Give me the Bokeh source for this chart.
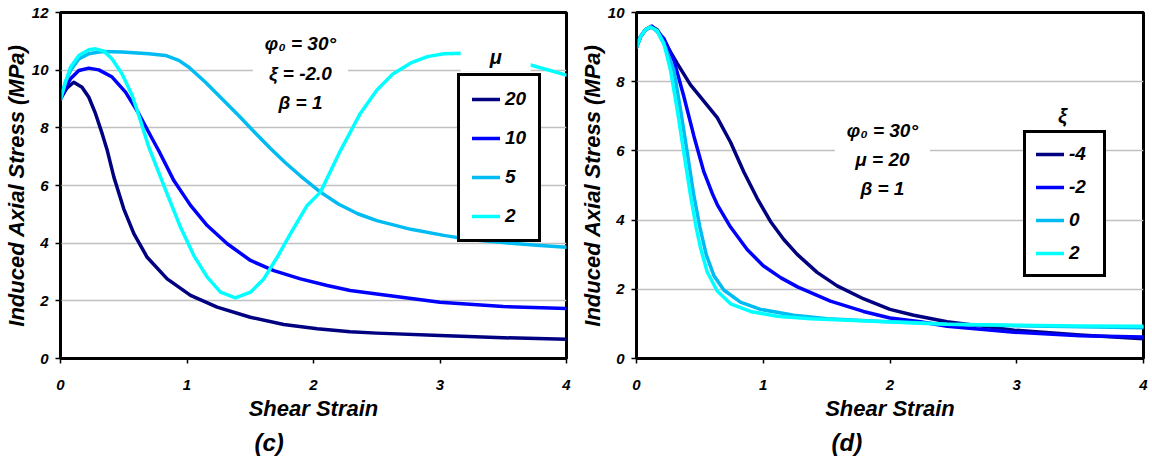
from bokeh.plotting import figure
from bokeh.models import Range1d, FixedTicker, Legend, LegendItem, Label, Title
from bokeh.layouts import row
from bokeh.embed import file_html
from bokeh.resources import INLINE

# ---------------- ticks ----------------
x_ticks = [0, 1, 2, 3, 4]
y_ticks_c = [0, 2, 4, 6, 8, 10, 12]
y_ticks_d = [0, 2, 4, 6, 8, 10]

# ---------------- data: panel (c), xi = -2.0, varying mu ----------------
mu_labels = ["20", "10", "5", "2"]

strain_mu20 = [0, 0.05, 0.105, 0.17, 0.224, 0.277, 0.33, 0.37, 0.422, 0.5, 0.58, 0.685, 0.843, 1.028, 1.238,
               1.5, 1.765, 2.03, 2.29, 2.5, 3.0, 3.5, 4.0]
stress_mu20 = [9.0, 9.38, 9.58, 9.41, 9.06, 8.49, 7.79, 7.21, 6.29, 5.19, 4.33, 3.51, 2.76, 2.19, 1.78,
               1.43, 1.18, 1.03, 0.93, 0.88, 0.80, 0.72, 0.67]

strain_mu10 = [0, 0.04, 0.079, 0.145, 0.224, 0.303, 0.408, 0.514, 0.619, 0.725, 0.78, 0.896, 1.028, 1.16,
               1.318, 1.502, 1.686, 1.897, 2.108, 2.29, 2.5, 3.0, 3.5, 4.0]
stress_mu10 = [9.0, 9.4, 9.70, 9.99, 10.07, 10.01, 9.76, 9.24, 8.49, 7.62, 7.18, 6.17, 5.31, 4.61,
               3.98, 3.40, 3.05, 2.76, 2.53, 2.36, 2.24, 1.95, 1.80, 1.73]

strain_mu5 = [0, 0.04, 0.079, 0.145, 0.224, 0.329, 0.487, 0.698, 0.83, 0.935, 1.015, 1.146, 1.278, 1.41,
              1.54, 1.66, 1.78, 1.9, 2.055, 2.2, 2.35, 2.5, 2.77, 3.03, 3.25, 3.5, 3.79, 4.0]
stress_mu5 = [9.0, 9.6, 9.99, 10.39, 10.57, 10.65, 10.63, 10.57, 10.51, 10.34, 10.1, 9.58, 9.0, 8.42,
              7.82, 7.28, 6.78, 6.32, 5.77, 5.35, 5.02, 4.78, 4.48, 4.27, 4.12, 4.02, 3.92, 3.86]

strain_mu2 = [0, 0.04, 0.079, 0.145, 0.224, 0.277, 0.343, 0.408, 0.487, 0.567, 0.632, 0.698, 0.843, 0.949,
              1.054, 1.16, 1.265, 1.383, 1.502, 1.607, 1.713, 1.818, 1.95, 2.055, 2.213, 2.37, 2.5, 2.63,
              2.77, 2.9, 3.03, 3.18, 3.35, 3.5, 3.73, 4.0]
stress_mu2 = [9.0, 9.6, 10.1, 10.51, 10.71, 10.74, 10.66, 10.39, 9.87, 9.12, 8.26, 7.33, 5.71, 4.55,
              3.57, 2.82, 2.30, 2.10, 2.30, 2.76, 3.51, 4.33, 5.31, 5.77, 7.21, 8.5, 9.3, 9.88,
              10.25, 10.47, 10.57, 10.59, 10.52, 10.42, 10.16, 9.83]

# ---------------- data: panel (d), mu = 20, varying xi ----------------
xi_labels = ["-4", "-2", "0", "2"]

strain_xim4 = [0, 0.032, 0.071, 0.116, 0.163, 0.216, 0.27, 0.321, 0.426, 0.531, 0.637, 0.742, 0.847, 0.952,
               1.057, 1.162, 1.268, 1.425, 1.583, 1.794, 2.0, 2.188, 2.45, 2.98, 3.5, 4.0]
stress_xim4 = [9.0, 9.3, 9.5, 9.6, 9.5, 9.2, 8.85, 8.53, 7.91, 7.44, 6.96, 6.25, 5.39, 4.63,
               3.96, 3.44, 3.01, 2.49, 2.10, 1.72, 1.42, 1.25, 1.06, 0.82, 0.68, 0.57]

strain_xim2 = [0, 0.032, 0.071, 0.124, 0.216, 0.294, 0.373, 0.452, 0.531, 0.6, 0.637, 0.742, 0.873, 1.0,
               1.14, 1.27, 1.53, 1.79, 2.0, 2.24, 2.45, 2.98, 3.5, 4.0]
stress_xim2 = [9.0, 9.3, 9.5, 9.6, 9.25, 8.63, 7.58, 6.44, 5.4, 4.75, 4.45, 3.8, 3.15, 2.68,
               2.33, 2.07, 1.66, 1.36, 1.17, 1.06, 0.93, 0.76, 0.66, 0.62]

strain_xi0 = [0, 0.032, 0.071, 0.11, 0.163, 0.216, 0.294, 0.347, 0.4, 0.452, 0.5, 0.55, 0.61, 0.689, 0.82,
              0.978, 1.241, 1.505, 1.9, 2.24, 2.45, 3.0, 3.5, 4.0]
stress_xi0 = [9.0, 9.3, 9.5, 9.58, 9.47, 9.1, 8.34, 7.2, 5.96, 4.72, 3.8, 3.0, 2.4, 1.98, 1.63,
              1.42, 1.25, 1.15, 1.08, 1.03, 0.99, 0.95, 0.92, 0.89]

strain_xi2 = [0, 0.032, 0.071, 0.11, 0.163, 0.216, 0.268, 0.321, 0.373, 0.426, 0.47, 0.505, 0.558, 0.637,
              0.742, 0.9, 1.11, 1.373, 1.767, 2.24, 2.45, 3.0, 3.5, 4.0]
stress_xi2 = [9.0, 9.3, 9.5, 9.58, 9.47, 9.1, 8.34, 7.2, 5.96, 4.72, 3.8, 3.2, 2.5, 1.95,
              1.58, 1.36, 1.22, 1.15, 1.09, 1.02, 0.99, 0.96, 0.94, 0.93]

colors = ["#000080", "#0000FF", "#00BCF2", "#00FFFF"]

FONT = "Liberation Sans"
BI = "bold italic"


def make_fig(width, height, ymax, yticks, bl, br, bt, bb, xlabel_standoff):
    p = figure(width=width, height=height, output_backend="svg", toolbar_location=None,
               x_range=Range1d(0, 4), y_range=Range1d(0, ymax),
               min_border_left=bl, min_border_right=br, min_border_top=bt, min_border_bottom=bb)
    p.background_fill_color = "white"
    p.border_fill_color = "white"
    p.outline_line_color = "black"
    p.outline_line_width = 3
    p.outline_line_alpha = 1.0
    p.xgrid.visible = False
    p.ygrid.ticker = FixedTicker(ticks=yticks)
    p.ygrid.grid_line_color = "#C0C0C0"
    p.ygrid.grid_line_width = 1.5
    p.xaxis.ticker = FixedTicker(ticks=x_ticks)
    p.yaxis.ticker = FixedTicker(ticks=yticks)
    for ax in (p.xaxis[0], p.yaxis[0]):
        ax.axis_line_color = "black"
        ax.axis_line_width = 2
        ax.major_tick_in = 0
        ax.major_tick_out = 5
        ax.major_tick_line_color = "black"
        ax.major_tick_line_width = 1.5
        ax.minor_tick_line_color = None
        ax.major_label_text_font = FONT
        ax.major_label_text_font_style = BI
        ax.major_label_text_font_size = "15px"
        ax.major_label_text_color = "black"
        ax.axis_label_text_font = FONT
        ax.axis_label_text_font_style = BI
        ax.axis_label_text_font_size = "22px"
        ax.axis_label_text_color = "black"
    p.xaxis.major_label_standoff = 16
    p.yaxis.major_label_standoff = 7
    p.xaxis.axis_label = "Shear Strain"
    p.xaxis.axis_label_standoff = xlabel_standoff
    p.yaxis.axis_label = "Induced Axial Stress (MPa)"
    p.yaxis.axis_label_standoff = 0
    return p


def add_legend(p, renderers, labels, loc, padding, spacing, label_width):
    legend = Legend(items=[LegendItem(label=l, renderers=[r]) for l, r in zip(labels, renderers)],
                    location=loc, margin=0, padding=padding, spacing=spacing,
                    glyph_width=28, glyph_height=20, label_height=20, label_width=label_width,
                    label_standoff=5,
                    label_text_font=FONT, label_text_font_style=BI, label_text_font_size="19px",
                    label_text_color="black",
                    border_line_color="black", border_line_width=3, border_line_alpha=1.0,
                    background_fill_color="white", background_fill_alpha=1.0)
    p.add_layout(legend)


def text_label(p, x, y, text, pad, size="19px"):
    lab = Label(x=x, y=y, text=text, text_align="center", text_baseline="middle",
                text_font=FONT, text_font_style=BI, text_font_size=size, text_color="black",
                text_line_height=1.4,
                background_fill_color="white", background_fill_alpha=1.0, padding=pad,
                level="overlay")
    p.add_layout(lab)


def panel_title(p, text, offset):
    p.add_layout(Title(text=text, align="left", offset=offset, text_font=FONT, text_font_style=BI,
                       text_font_size="24px", text_color="black", standoff=6), "below")


# ---------------- panel (c) ----------------
p1 = make_fig(576, 458, 12, y_ticks_c, 60, 10, 12, 100, 3)
series_c = [(strain_mu20, stress_mu20), (strain_mu10, stress_mu10),
            (strain_mu5, stress_mu5), (strain_mu2, stress_mu2)]
rs1 = [p1.line(xs, ys, line_color=c, line_width=3.5, line_cap="round", line_join="round")
       for (xs, ys), c in zip(series_c, colors)]
text_label(p1, 1.897, 9.89, "φ₀ = 30°\nξ = -2.0\nβ = 1", dict(left=12, right=12, top=2, bottom=2))
add_legend(p1, rs1, mu_labels, (397, 116), 12, 17, 20)
text_label(p1, 3.44, 10.47, "μ", dict(left=29, right=29, top=4, bottom=4), "20px")
panel_title(p1, "(c)", 194)

# ---------------- panel (d) ----------------
p2 = make_fig(574, 458, 10, y_ticks_d, 60, 7, 12, 100, 3)
series_d = [(strain_xim4, stress_xim4), (strain_xim2, stress_xim2),
            (strain_xi0, stress_xi0), (strain_xi2, stress_xi2)]
rs2 = [p2.line(xs, ys, line_color=c, line_width=3.5, line_cap="round", line_join="round")
       for (xs, ys), c in zip(series_d, colors)]
text_label(p2, 1.94, 5.75, "φ₀ = 30°\nμ = 20\nβ = 1", dict(left=12, right=12, top=2, bottom=2))
add_legend(p2, rs2, xi_labels, (387, 81), 10, 11, 24)
text_label(p2, 3.36, 6.97, "ξ", dict(left=22, right=22, top=8, bottom=10), "20px")
panel_title(p2, "(d)", 195)

layout = row(p1, p2)
open("out.html", "w").write(file_html(layout, INLINE))
